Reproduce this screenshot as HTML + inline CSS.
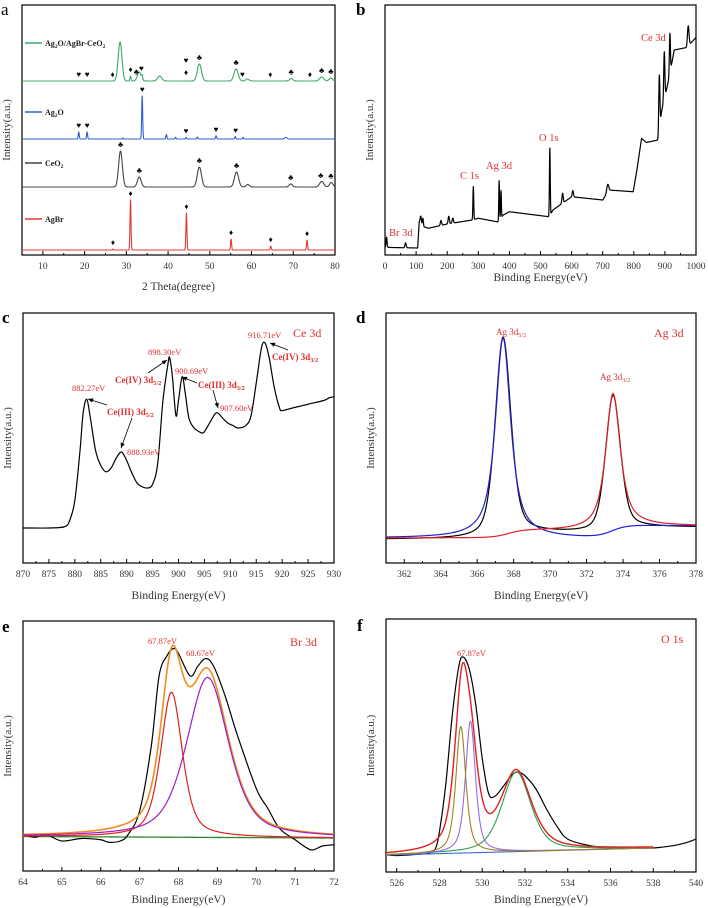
<!DOCTYPE html>
<html><head><meta charset="utf-8"><style>
html,body{margin:0;padding:0;background:#fff;}
svg{display:block;font-family:"Liberation Serif",serif;}
</style></head><body>
<svg id="fig" width="708" height="908" viewBox="0 0 708 908" xmlns="http://www.w3.org/2000/svg"></svg>
<script>
// ---------- DATA ----------
const xrdGreenPeaks=[[28.5,15.6,0.45],[33.1,3.6,0.45],[31.0,2.0,0.12],[38.0,2.0,0.5],[47.5,6.8,0.5],[56.3,4.8,0.5],[59.0,0.8,0.4],[69.5,1.0,0.4],[76.8,1.6,0.5],[79.0,1.2,0.4],[33.8,1.5,0.12]];
const xrdBluePeaks=[[33.8,17.2,0.12],[18.6,2.8,0.12],[20.6,2.8,0.12],[39.6,1.8,0.12],[41.8,0.7,0.1],[44.3,0.7,0.1],[47.0,0.8,0.12],[51.5,1.3,0.12],[56.1,1.0,0.12],[58.0,0.7,0.1],[29.2,0.4,0.1],[68.2,0.6,0.3]];
const xrdGrayPeaks=[[28.6,14.4,0.45],[33.1,4.0,0.45],[47.5,8.0,0.5],[56.4,6.0,0.5],[59.1,1.0,0.4],[69.4,1.2,0.4],[76.8,2.2,0.5],[79.1,1.8,0.4]];
const xrdRedPeaks=[[31.0,20,0.12],[44.4,14.8,0.12],[55.1,4.4,0.12],[64.6,1.6,0.12],[73.3,4.0,0.12],[26.8,0.4,0.1]];
const xrdBaselines=[69.6,46.4,27.2,2.0];
const xrdGreenMarks=[[18.6,'♥'],[20.6,'♥'],[26.7,'♦'],[31.0,'♦'],[32.4,'♣'],[33.6,'♥'],[44.3,'♦'],[47.5,'♣'],[56.3,'♣'],[57.8,'♥'],[64.5,'♦'],[69.5,'♣'],[74.0,'♦'],[76.8,'♣'],[79.0,'♣']];
const xrdBlueMarks=[[18.6,'♥'],[20.6,'♥'],[33.8,'♥'],[44.3,'♥'],[51.5,'♥'],[56.2,'♥']];
const xrdGrayMarks=[[28.6,'♣'],[33.1,'♣'],[47.5,'♣'],[56.4,'♣'],[69.4,'♣'],[76.6,'♣'],[79.0,'♣']];
const xrdRedMarks=[[26.8,'♦'],[31.0,'♦'],[44.4,'♦'],[55.1,'♦'],[64.6,'♦'],[73.3,'♦']];
const xrdTicks=[10,20,30,40,50,60,70,80];
const surveyBase=[[0,3.2],[20,3],[105,2.8],[110,13.2],[125,11.3],[140,10.7],[200,12.4],[280,14],[300,14.7],[364,13.2],[380,16],[400,17.3],[528,15.3],[540,18],[600,23.3],[700,22],[720,26],[798,25.3],[810,34],[825,46.7],[840,45],[878,46],[890,58],[905,66],[915,72],[930,82],[970,83],[1000,87]];
const surveyPeaks=[[5,4,1.5],[66,2,2],[115,3,2],[122,3,1.5],[180,2,2],[205,3,2],[218,2,2],[284,13.2,1.3],[367,16,1.2],[373,11,1.2],[530,27,1.3],[571,4,2],[604,2.5,2],[716,3,3],[882,22,1.8],[898,19,1.8],[916,16,1.6],[975,8,2.5]];
const surveyTicks=[0,100,200,300,400,500,600,700,800,900,1000];
const ceX=[870,875,878,879,880,881,881.6,882.3,883,884,885,886,887,888,889,890,891,892,893,894,895,896,897,898,898.3,898.8,899.5,900,900.7,901.3,902,903,904,904.5,905,906,907,907.6,908.5,909.5,910.5,911.5,913,914,915,916,916.7,917.5,918.5,919.5,920,922,925,928,929,930];
const ceY=[14,14,14.5,17,25,45,60,65.5,58,45,39,36.5,38,42,44.4,41,36,32,30.5,30,31.5,40,65,80,82,75,59,65,74.5,68,58,54,52.5,52,52.5,56,59.5,60,58,56,55,54,55,59,72,86,88,82,70,62,61,62,63.5,65,66,66.5];
const ceTicks=[870,875,880,885,890,895,900,905,910,915,920,925,930];
const agPeaks=[[367.42,80,1.0],[373.45,54,0.95]];
const agTicks=[362,364,366,368,370,372,374,376,378];
const brPeaks=[[67.82,58,0.66],[68.75,64,1.28]];
const brBaseline=[13.8,13.2];
const brDataX=[64,64.3,64.6,65,65.5,66,66.2,66.5,66.7,67,67.3,67.5,67.7,67.87,68,68.3,68.5,68.7,68.9,69.2,69.5,70,70.3,70.6,71,71.4,71.7,72];
const brDataY=[14.5,13.5,14.5,12,13,12.5,11.5,12,14.5,24,50,78,86,89,87,78,82,85,82,70,55,33,25,17,12.5,8.5,10,10.5];
const brTicks=[64,65,66,67,68,69,70,71,72];
const oPeaks=[[529.0,50,0.55],[529.45,52,0.55],[531.6,31.5,1.6]];
const oEnvPeaks=[[529.05,60,0.8],[529.5,28,0.8],[531.6,31,1.7]];
const oBaseline=[6.7,9.5];
const oDataX=[525.5,526,527,527.5,527.8,528,528.3,528.6,528.9,529.1,529.4,529.7,530,530.3,530.6,531,531.4,531.7,532,532.5,533,533.5,534,535,536,537,538,539,539.5,540];
const oDataY=[6.8,6.5,7,7.5,9,16,35,62,81,85,80,66,45,31,30,34,38.5,39.5,38,33,25,18,13,10.5,9.5,9.5,9.5,10.5,11.5,13];
const oTicks=[526,528,530,532,534,536,538,540];

// ---------- HELPERS ----------
const NS='http://www.w3.org/2000/svg';
const svg=document.getElementById('fig');
function el(tag,attrs,parent){const e=document.createElementNS(NS,tag);for(const k in attrs)e.setAttribute(k,attrs[k]);(parent||svg).appendChild(e);return e;}
function gauss(x,c,h,s){return h*Math.exp(-(x-c)*(x-c)/(2*s*s));}
function pv(x,c,h,f,eta){const d=(x-c)/(f/2);const L=1/(1+d*d);const G=Math.exp(-4*Math.LN2*((x-c)/f)*((x-c)/f));return h*(eta*L+(1-eta)*G);}
function logi(x,c,w){return 1/(1+Math.exp(-(x-c)/w));}
function interp(pts,x){for(let i=1;i<pts.length;i++){if(x<=pts[i][0]){const a=pts[i-1],b=pts[i];return a[1]+(b[1]-a[1])*(x-a[0])/(b[0]-a[0]);}}return pts[pts.length-1][1];}
function makePanel(cfg){
  const g=el('g',{});  
  const sx=v=>cfg.l+(v-cfg.x0)/(cfg.x1-cfg.x0)*(cfg.r-cfg.l);
  const sy=u=>cfg.b-u/100*(cfg.b-cfg.t);
  const axes={g,sx,sy};
  const box=el('rect',{x:cfg.l,y:cfg.t,width:cfg.r-cfg.l,height:cfg.b-cfg.t,fill:'none',stroke:'#000','stroke-width':1.2},g);
   
  const tg=el('g',{},g);  
  cfg.ticks.forEach((v,i)=>{
    el('line',{x1:sx(v),x2:sx(v),y1:cfg.b,y2:cfg.b-4,stroke:'#000','stroke-width':1},tg);
    if(i<cfg.ticks.length-1){const m=(v+cfg.ticks[i+1])/2;el('line',{x1:sx(m),x2:sx(m),y1:cfg.b,y2:cfg.b-2,stroke:'#000','stroke-width':1},tg);}
    const t=el('text',{x:sx(v),y:cfg.b+14,'font-size':9.5,'text-anchor':'middle',fill:'#333'},tg);t.textContent=v;
     
  });
  if(cfg.minorLeft!==undefined){el('line',{x1:sx(cfg.minorLeft),x2:sx(cfg.minorLeft),y1:cfg.b,y2:cfg.b-2,stroke:'#000'},tg);}
  const xt=el('text',{x:(cfg.l+cfg.r)/2,y:cfg.xly,'font-size':11.5,'text-anchor':'middle',fill:'#333'},g);xt.textContent=cfg.xlabel;
   
  const yx=cfg.l-12, yy=(cfg.t+cfg.b)/2;
  const yt=el('text',{x:yx,y:yy,'font-size':11,'text-anchor':'middle',fill:'#333',transform:`rotate(-90 ${yx} ${yy})`},g);yt.textContent='Intensity(a.u.)';
   
  const pl=el('text',{x:cfg.lx,y:cfg.ly,'font-size':17,'font-weight':cfg.bold?'bold':'normal',fill:'#000'},g);pl.textContent=cfg.letter;
   
  return axes;
}
function curve(ax,fn,x0,x1,step,color,name,w){
  let d='';for(let x=x0;x<=x1+1e-9;x+=step){d+=(d?'L':'M')+ax.sx(x).toFixed(2)+','+ax.sy(fn(x)).toFixed(2);}
  const p=el('path',{d,fill:'none',stroke:color,'stroke-width':w||1.2,'stroke-linejoin':'round'},ax.g);
    return p;
}
function sampled(ax,xs,ys,color,name,w){
  const P=xs.map((x,i)=>[ax.sx(x),ax.sy(ys[i])]);
  let d='M'+P[0][0]+','+P[0][1];
  for(let i=0;i<P.length-1;i++){const p0=P[Math.max(0,i-1)],p1=P[i],p2=P[i+1],p3=P[Math.min(P.length-1,i+2)];
    const c1=[p1[0]+(p2[0]-p0[0])/6,p1[1]+(p2[1]-p0[1])/6],c2=[p2[0]-(p3[0]-p1[0])/6,p2[1]-(p3[1]-p1[1])/6];
    d+=`C${c1[0].toFixed(2)},${c1[1].toFixed(2)} ${c2[0].toFixed(2)},${c2[1].toFixed(2)} ${p2[0].toFixed(2)},${p2[1].toFixed(2)}`;}
  const p=el('path',{d,fill:'none',stroke:color,'stroke-width':w||1.2},ax.g);
    return p;
}
function label(ax,x,y,txt,sub,opts){
  const t=el('text',Object.assign({x,y,'font-size':9,fill:'#e03030'},opts||{}),ax.g);
  t.appendChild(document.createTextNode(txt));
  if(sub){const s=el('tspan',{'font-size':'70%',dy:2},t);s.textContent=sub;}
    return t;
}
function arrow(ax,x1,y1,x2,y2){
  const a=el('line',{x1,y1,x2,y2,stroke:'#000','stroke-width':0.8},ax.g);
   
  const ang=Math.atan2(y2-y1,x2-x1),L=5,W=2.2;
  const pts=[[x2,y2],[x2-L*Math.cos(ang)+W*Math.sin(ang),y2-L*Math.sin(ang)-W*Math.cos(ang)],[x2-L*Math.cos(ang)-W*Math.sin(ang),y2-L*Math.sin(ang)+W*Math.cos(ang)]];
  const h=el('polygon',{points:pts.map(p=>p.join(',')).join(' '),fill:'#000'},ax.g);
   
}

// ---------- PANEL A ----------
(function(){
  const ax=makePanel({name:'panel-a-xrd',l:22,r:335,t:5,b:255,x0:5,x1:80,ticks:xrdTicks,minorLeft:5,xlabel:'2 Theta(degree)',xly:290,letter:'a',lx:1,ly:15});
  const sets=[[xrdGreenPeaks,'#3aa86a','green-xrd-line',xrdGreenMarks],[xrdBluePeaks,'#2f5fd0','blue-xrd-line',xrdBlueMarks],[xrdGrayPeaks,'#444','gray-xrd-line',xrdGrayMarks],[xrdRedPeaks,'#e03a3a','red-xrd-line',xrdRedMarks]];
  sets.forEach((s,i)=>{
    const f=x=>xrdBaselines[i]+s[0].reduce((a,p)=>a+gauss(x,p[0],p[1],p[2]),0);
    curve(ax,f,5,80,0.04,s[1],s[2],1.1);
    s[3].forEach(m=>{
      const y=ax.sy(f(m[0]))-4;
      const t=el('text',{x:ax.sx(m[0]),y:(i===0&&m[0]===44.3)?y-2:y,'font-size':8,'text-anchor':'middle',fill:'#000'},ax.g);t.textContent=m[1];
       });
  });
  const hh=el('text',{x:ax.sx(44.3),y:ax.sy(xrdBaselines[0])-18,'font-size':8,'text-anchor':'middle'},ax.g);hh.textContent='♥';
   
  const leg=[['#3aa86a',43,'Ag','2','O/AgBr-CeO','2'],['#2f5fd0',112,'Ag','2','O',''],['#444',163,'CeO','2','',''],['#e03a3a',219,'AgBr','','','']];
  leg.forEach(L=>{
    const g=el('g',{},ax.g);
    el('line',{x1:25,x2:42,y1:L[1],y2:L[1],stroke:L[0],'stroke-width':1.5},g);
    const t=el('text',{x:45,y:L[1]+3,'font-size':8,'font-weight':'bold',fill:'#222'},g);
    t.appendChild(document.createTextNode(L[2]));
    if(L[3]){const s=el('tspan',{'font-size':5.5,dy:2},t);s.textContent=L[3];}
    if(L[4]){const s=el('tspan',{dy:-2},t);s.textContent=L[4];}
    if(L[5]){const s=el('tspan',{'font-size':5.5,dy:2},t);s.textContent=L[5];}
  });
})();

// ---------- PANEL B ----------
(function(){
  const ax=makePanel({name:'panel-b-survey',l:385,r:696,t:5,b:255,x0:0,x1:1000,ticks:surveyTicks,xlabel:'Binding Energy(eV)',xly:281,letter:'b',lx:356,ly:15,bold:true});
  const f=x=>interp(surveyBase,x)+surveyPeaks.reduce((a,p)=>a+gauss(x,p[0],p[1],p[2]),0);
  curve(ax,f,0,1000,0.5,'#000','survey-spectrum-line',1.2);
  label(ax,389,236,'Br 3d','',{'font-size':10.5});
  label(ax,460,179,'C 1s','',{'font-size':10.5});
  label(ax,486,169,'Ag 3d','',{'font-size':10.5});
  label(ax,539,141,'O 1s','',{'font-size':10.5});
  label(ax,641,41,'Ce 3d','',{'font-size':10.5});
})();

// ---------- PANEL C ----------
(function(){
  const ax=makePanel({name:'panel-c-ce3d',l:23,r:334,t:313,b:563,x0:870,x1:930,ticks:ceTicks,xlabel:'Binding Energy(eV)',xly:599,letter:'c',lx:2,ly:323,bold:true});
  sampled(ax,ceX,ceY,'#000','ce3d-spectrum-line',1.2);
  label(ax,72,391,'882.27eV','',{'font-size':8.5});
  label(ax,107,415,'Ce(III) 3d','5/2',{'font-size':9,'font-weight':'bold'});
  label(ax,127,455,'888.93eV','',{'font-size':8.5});
  label(ax,148,355,'898.30eV','',{'font-size':8.5});
  label(ax,115,383,'Ce(IV) 3d','5/2',{'font-size':9,'font-weight':'bold'});
  label(ax,175,374,'900.69eV','',{'font-size':8.5});
  label(ax,198,388,'Ce(III) 3d','3/2',{'font-size':9,'font-weight':'bold'});
  label(ax,220,411,'907.60eV','',{'font-size':8.5});
  label(ax,248,338,'916.71eV','',{'font-size':8.5});
  label(ax,272,360,'Ce(IV) 3d','3/2',{'font-size':9,'font-weight':'bold'});
  label(ax,293,337,'Ce 3d','',{'font-size':12});
  arrow(ax,107,405,88,399);
  arrow(ax,132,418,121,448);
  arrow(ax,148,373,167,360);
  arrow(ax,197,383,182,377);
  arrow(ax,213,390,218,408);
  arrow(ax,288,350,270,343);
})();

// ---------- PANEL D ----------
(function(){
  const ax=makePanel({name:'panel-d-ag3d',l:386,r:696,t:313,b:563,x0:361,x1:378,ticks:agTicks,xlabel:'Binding Energy(eV)',xly:599,letter:'d',lx:356,ly:323,bold:true});
  const p1=agPeaks[0],p2=agPeaks[1];
  const blue=x=>10+4.8*logi(x,373.4,0.4)+pv(x,p1[0],p1[1],p1[2],0.85);
  const red=x=>10+3*logi(x,367.7,0.4)+1.8*logi(x,373.5,0.4)+pv(x,p2[0],p2[1],p2[2],0.8);
  const black=x=>9.5+2.5*logi(x,367.7,0.3)+2.3*logi(x,373.6,0.3)+pv(x,p1[0],p1[1],p1[2]*1.02,0.45)+pv(x,p2[0],p2[1],p2[2]*1.02,0.4);
  curve(ax,black,361,378,0.03,'#000','ag3d-data-line',1.2);
  curve(ax,blue,361,378,0.03,'#2222cc','ag3d52-fit-line',1.2);
  curve(ax,red,361,378,0.03,'#e02020','ag3d32-fit-line',1.2);
  label(ax,496,335,'Ag 3d','5/2',{'font-size':9});
  label(ax,600,380,'Ag 3d','3/2',{'font-size':9});
  label(ax,654,337,'Ag 3d','',{'font-size':12});
})();

// ---------- PANEL E ----------
(function(){
  const ax=makePanel({name:'panel-e-br3d',l:23,r:334,t:621,b:871,x0:64,x1:72,ticks:brTicks,xlabel:'Binding Energy(eV)',xly:903,letter:'e',lx:2,ly:632,bold:true});
  const bl=x=>brBaseline[0]+(brBaseline[1]-brBaseline[0])*(x-64)/8;
  const r=x=>bl(x)+pv(x,brPeaks[0][0],brPeaks[0][1],brPeaks[0][2],0.55);
  const pu=x=>bl(x)+pv(x,brPeaks[1][0],brPeaks[1][1],brPeaks[1][2],0.55);
  const sum=x=>bl(x)+pv(x,brPeaks[0][0],brPeaks[0][1],brPeaks[0][2],0.55)+pv(x,brPeaks[1][0],brPeaks[1][1],brPeaks[1][2],0.55);
  curve(ax,bl,64,72,0.05,'#2a8a2a','br3d-baseline-line',1.3);
  sampled(ax,brDataX,brDataY,'#000','br3d-data-line',1.2);
  curve(ax,sum,64,72,0.02,'#f08c1e','br3d-envelope-line',1.6);
  curve(ax,r,64,72,0.02,'#e02020','br3d-peak1-line',1.2);
  curve(ax,pu,64,72,0.02,'#9a1ec8','br3d-peak2-line',1.2);
  label(ax,148,644,'67.87eV','',{'font-size':8.5});
  label(ax,186,656,'68.67eV','',{'font-size':8.5});
  label(ax,290,646,'Br 3d','',{'font-size':12});
})();

// ---------- PANEL F ----------
(function(){
  const ax=makePanel({name:'panel-f-o1s',l:386,r:696,t:619,b:872,x0:525.5,x1:540,ticks:oTicks,xlabel:'Binding Energy(eV)',xly:903,letter:'f',lx:357,ly:631,bold:true});
  const bl=x=>oBaseline[0]+(oBaseline[1]-oBaseline[0])*(x-525.5)/12.5;
  const c=(x,i,e)=>pv(x,oPeaks[i][0],oPeaks[i][1],oPeaks[i][2],e);
  const env=x=>bl(x)+oEnvPeaks.reduce((a,p)=>a+pv(x,p[0],p[1],p[2],0.6),0);
  sampled(ax,oDataX,oDataY,'#000','o1s-data-line',1.2);
  curve(ax,bl,525.5,538,0.05,'#3a6ad0','o1s-baseline-line',1.1);
  curve(ax,x=>bl(x)+c(x,2,0.5),525.5,538,0.02,'#2aa050','o1s-peak3-line',1.1);
  curve(ax,x=>bl(x)+c(x,1,0.6),525.5,538,0.02,'#9a6ae0','o1s-peak2-line',1.1);
  curve(ax,x=>bl(x)+c(x,0,0.6),525.5,538,0.02,'#a08020','o1s-peak1-line',1.1);
  curve(ax,env,525.5,538,0.02,'#e02020','o1s-envelope-line',1.4);
  label(ax,457,656,'67.87eV','',{'font-size':8.5});
  label(ax,661,643,'O 1s','',{'font-size':12});
})();
</script>
</body></html>
